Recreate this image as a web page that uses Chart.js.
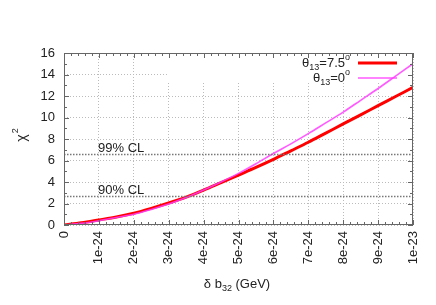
<!DOCTYPE html>
<html>
<head>
<meta charset="utf-8">
<script src="https://cdn.jsdelivr.net/npm/chart.js@4"></script>
<style>
  html, body { margin: 0; padding: 0; background: #fff; }
  #wrap { width: 436px; height: 305px; }
</style>
</head>
<body>
<div id="wrap"><canvas id="chart" width="436" height="305"></canvas></div>
<script>
// x in units of 1e-24 GeV
const xValues = [0, 0.5, 1, 1.5, 2, 2.5, 3, 3.5, 4, 4.5, 5, 5.5, 6, 6.5, 7, 7.5, 8, 8.5, 9, 9.5, 10];
const chiTheta75 = [0, 0.2, 0.47, 0.75, 1.1, 1.55, 2.05, 2.6, 3.25, 3.95, 4.65, 5.35, 6.1, 6.9, 7.7, 8.55, 9.4, 10.25, 11.1, 11.95, 12.8];
const chiTheta0 = [0, 0.15, 0.4, 0.7, 1.0, 1.45, 1.95, 2.55, 3.25, 4.0, 4.8, 5.7, 6.65, 7.55, 8.5, 9.5, 10.5, 11.6, 12.7, 13.85, 15.0];
const xTickLabels = ["0", "1e-24", "2e-24", "3e-24", "4e-24", "5e-24", "6e-24", "7e-24", "8e-24", "9e-24", "1e-23"];
const clLevels = [6.63, 2.71];
const clLabels = ["99% CL", "90% CL"];

const FONT = "Liberation Sans, Arial, sans-serif";

function toPoints(ys) {
  return xValues.map((x, i) => ({ x, y: ys[i] }));
}

// white box behind the key, drawn over the grid
const keyBoxPlugin = {
  id: "keyBox",
  beforeDatasetsDraw(chart) {
    const { ctx, chartArea } = chart;
    const x = chart.scales.x;
    ctx.save();
    ctx.fillStyle = "#fff";
    ctx.fillRect(x.getPixelForValue(2.95), chartArea.top + 1, chartArea.right - x.getPixelForValue(2.95) - 1, 29);
    ctx.restore();
  },
};

// frame, inward ticks, CL lines, key and axis titles
const decorPlugin = {
  id: "decor",
  afterDatasetsDraw(chart) {
    const { ctx, chartArea } = chart;
    const xs = chart.scales.x;
    const ys = chart.scales.y;
    const { left, right, top, bottom } = chartArea;

    ctx.save();
    // CL lines
    ctx.strokeStyle = "#777";
    ctx.lineWidth = 1.5;
    ctx.setLineDash([1.5, 1.5]);
    clLevels.forEach((v, i) => {
      const py = Math.round(ys.getPixelForValue(v)) + 0.5;
      ctx.beginPath();
      ctx.moveTo(left, py);
      ctx.lineTo(right, py);
      ctx.stroke();
    });
    ctx.setLineDash([]);
    ctx.fillStyle = "#222";
    ctx.font = "13px " + FONT;
    ctx.textAlign = "left";
    ctx.textBaseline = "alphabetic";
    clLevels.forEach((v, i) => {
      const py = ys.getPixelForValue(v);
      ctx.fillText(clLabels[i], 98, py - 2);
    });

    // frame
    ctx.strokeStyle = "#666";
    ctx.lineWidth = 1;
    ctx.strokeRect(left + 0.5, top + 0.5, right - left - 1, bottom - top - 1);

    // ticks
    ctx.beginPath();
    for (let v = 0; v <= 10.001; v += 0.2) {
      const px = Math.round(xs.getPixelForValue(v)) + 0.5;
      const major = Math.abs(v - Math.round(v)) < 0.01;
      const len = major ? 5 : 3;
      ctx.moveTo(px, bottom);
      ctx.lineTo(px, bottom - len);
      ctx.moveTo(px, top);
      ctx.lineTo(px, top + len);
    }
    for (let v = 0; v <= 16; v += 1) {
      const py = Math.round(ys.getPixelForValue(v)) + 0.5;
      const len = v % 2 === 0 ? 5 : 3;
      ctx.moveTo(left, py);
      ctx.lineTo(left + len, py);
      ctx.moveTo(right, py);
      ctx.lineTo(right - len, py);
    }
    ctx.stroke();

    // key
    const entries = [
      { sup: "o", main: "=7.5", color: "#ff0000", width: 3, y: 63 },
      { sup: "o", main: "=0", color: "rgba(255,60,255,0.85)", width: 1.6, y: 78 },
    ];
    entries.forEach((e) => {
      ctx.font = "13px " + FONT;
      const wTheta = ctx.measureText("\u03b8").width;
      const wMain = ctx.measureText(e.main).width;
      ctx.font = "9px " + FONT;
      const wSub = ctx.measureText("13").width;
      const wSup = ctx.measureText(e.sup).width;
      let x = 350 - (wTheta + wSub + wMain + wSup);
      const base = e.y + 4;
      ctx.fillStyle = "#222";
      ctx.font = "13px " + FONT;
      ctx.fillText("\u03b8", x, base);
      x += wTheta;
      ctx.font = "9px " + FONT;
      ctx.fillText("13", x, base + 3);
      x += wSub;
      ctx.font = "13px " + FONT;
      ctx.fillText(e.main, x, base);
      x += wMain;
      ctx.font = "9px " + FONT;
      ctx.fillText(e.sup, x, base - 7);

      ctx.strokeStyle = e.color;
      ctx.lineWidth = e.width;
      ctx.beginPath();
      ctx.moveTo(358, e.y);
      ctx.lineTo(397, e.y);
      ctx.stroke();
    });

    // x title
    ctx.fillStyle = "#222";
    ctx.font = "13px " + FONT;
    const p1 = "\u03b4 b";
    const p3 = " (GeV)";
    const w1 = ctx.measureText(p1).width;
    const w3 = ctx.measureText(p3).width;
    ctx.font = "9px " + FONT;
    const w2 = ctx.measureText("32").width;
    let tx = 237 - (w1 + w2 + w3) / 2;
    ctx.font = "13px " + FONT;
    ctx.fillText(p1, tx, 288);
    tx += w1;
    ctx.font = "9px " + FONT;
    ctx.fillText("32", tx, 291);
    tx += w2;
    ctx.font = "13px " + FONT;
    ctx.fillText(p3, tx, 288);

    // y title
    ctx.translate(26, 136);
    ctx.rotate(-Math.PI / 2);
    ctx.font = "14px " + FONT;
    const wc = ctx.measureText("\u03c7").width;
    ctx.fillText("\u03c7", -wc / 2 - 2, 0);
    ctx.font = "9px " + FONT;
    ctx.fillText("2", wc / 2 - 1, -8);
    ctx.restore();
  },
};

new Chart(document.getElementById("chart"), {
  type: "line",
  data: {
    datasets: [
      {
        label: "theta13=7.5",
        data: toPoints(chiTheta75),
        borderColor: "#ff0000",
        borderWidth: 3,
        pointRadius: 0,
        cubicInterpolationMode: "monotone",
        order: 1,
      },
      {
        label: "theta13=0",
        data: toPoints(chiTheta0),
        borderColor: "rgba(255,60,255,0.85)",
        borderWidth: 1.6,
        pointRadius: 0,
        cubicInterpolationMode: "monotone",
        order: 0,
      },
    ],
  },
  options: {
    responsive: false,
    animation: false,
    events: [],
    layout: { padding: { left: 0, right: 23, top: 53, bottom: 0 } },
    plugins: { legend: { display: false }, tooltip: { enabled: false } },
    scales: {
      x: {
        type: "linear",
        min: 0,
        max: 10,
        afterFit: (s) => { s.height = 80; },
        afterBuildTicks: (s) => { s.ticks = xTickLabels.map((_, i) => ({ value: i })); },
        ticks: {
          stepSize: 1,
          minRotation: 90,
          maxRotation: 90,
          padding: 6,
          color: "#222",
          font: { family: FONT, size: 13 },
          callback: (v) => xTickLabels[Math.round(v)],
        },
        grid: { color: "#bbb", borderDash: [1, 2], drawTicks: false, lineWidth: 1 },
        border: { display: false, dash: [1, 2] },
      },
      y: {
        min: 0,
        max: 16,
        afterFit: (s) => { s.width = 64; },
        ticks: {
          stepSize: 2,
          padding: 9,
          color: "#222",
          font: { family: FONT, size: 13 },
        },
        grid: { color: "#bbb", drawTicks: false, lineWidth: 1 },
        border: { display: false, dash: [1, 2] },
      },
    },
  },
  plugins: [keyBoxPlugin, decorPlugin],
});
</script>
</body>
</html>
